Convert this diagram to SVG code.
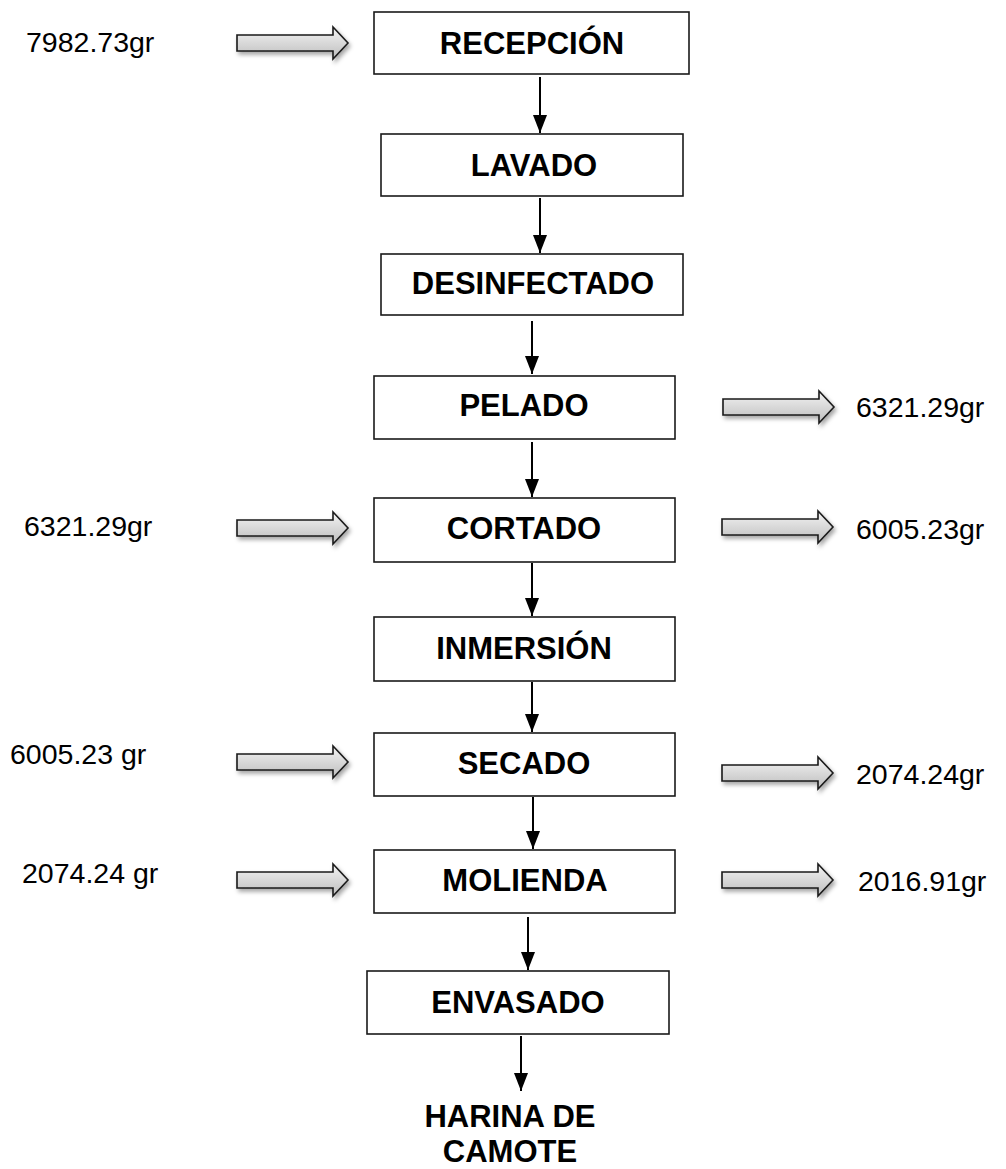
<svg xmlns="http://www.w3.org/2000/svg" width="1006" height="1169" viewBox="0 0 1006 1169">
<defs>
<style>
.box{fill:#fff;stroke:#1a1a1a;stroke-width:1.6}
.lbl{font-family:"Liberation Sans",Arial,sans-serif;font-weight:bold;font-size:31px;fill:#000;text-anchor:middle}
.qty{font-family:"Liberation Sans",Arial,sans-serif;font-size:28.5px;fill:#000}
.con{stroke:#000;stroke-width:2;fill:none;marker-end:url(#ah)}
.blk{fill:url(#g);stroke:#1a1a1a;stroke-width:1.6;filter:url(#sh)}
</style>
<linearGradient id="g" x1="0" y1="0" x2="0" y2="1">
<stop offset="0" stop-color="#f4f4f4"/>
<stop offset="1" stop-color="#bdbdbd"/>
</linearGradient>
<filter id="sh" x="-20%" y="-50%" width="140%" height="200%">
<feDropShadow dx="2" dy="3" stdDeviation="2" flood-color="#000" flood-opacity="0.35"/>
</filter>
<marker id="ah" markerWidth="18" markerHeight="14" refX="18" refY="7" orient="auto" markerUnits="userSpaceOnUse" viewBox="0 0 18 14">
<path d="M0,0 L18,7 L0,14 Z" fill="#000"/>
</marker>
<path id="ba" d="M0,-8 H96 V-16 L111,0 L96,16 V8 H0 Z"/>
</defs>
<g id="connectors">
<line class="con" x1="540" y1="77" x2="540" y2="133"/>
<line class="con" x1="540" y1="198" x2="540" y2="253"/>
<line class="con" x1="532" y1="321" x2="532" y2="374"/>
<line class="con" x1="532" y1="442" x2="532" y2="497"/>
<line class="con" x1="532" y1="563" x2="532" y2="616"/>
<line class="con" x1="532" y1="682" x2="532" y2="732"/>
<line class="con" x1="533" y1="797" x2="533" y2="849"/>
<line class="con" x1="528" y1="917" x2="528" y2="970"/>
<line class="con" x1="521" y1="1036" x2="521" y2="1091"/>
</g>
<g id="flow-arrows">
<use href="#ba" class="blk" transform="translate(237,43)"/>
<use href="#ba" class="blk" transform="translate(723,407)"/>
<use href="#ba" class="blk" transform="translate(237,528)"/>
<use href="#ba" class="blk" transform="translate(722,527)"/>
<use href="#ba" class="blk" transform="translate(237,762)"/>
<use href="#ba" class="blk" transform="translate(722,773)"/>
<use href="#ba" class="blk" transform="translate(237,880)"/>
<use href="#ba" class="blk" transform="translate(722,880)"/>
</g>
<g id="n-recepcion"><rect class="box" x="374" y="12" width="315" height="62"/><text class="lbl" x="532" y="54">RECEPCIÓN</text></g>
<g id="n-lavado"><rect class="box" x="381" y="134" width="302" height="62"/><text class="lbl" x="534" y="176">LAVADO</text></g>
<g id="n-desinfectado"><rect class="box" x="381" y="254" width="302" height="61"/><text class="lbl" x="533" y="294">DESINFECTADO</text></g>
<g id="n-pelado"><rect class="box" x="374" y="376" width="301" height="63"/><text class="lbl" x="524" y="416">PELADO</text></g>
<g id="n-cortado"><rect class="box" x="374" y="498" width="301" height="64"/><text class="lbl" x="524" y="539">CORTADO</text></g>
<g id="n-inmersion"><rect class="box" x="374" y="617" width="301" height="64"/><text class="lbl" x="524" y="659">INMERSIÓN</text></g>
<g id="n-secado"><rect class="box" x="374" y="733" width="301" height="63"/><text class="lbl" x="524" y="774">SECADO</text></g>
<g id="n-molienda"><rect class="box" x="374" y="850" width="301" height="63"/><text class="lbl" x="525" y="891">MOLIENDA</text></g>
<g id="n-envasado"><rect class="box" x="367" y="971" width="302" height="63"/><text class="lbl" x="518" y="1013">ENVASADO</text></g>
<g id="n-harina"><text class="lbl" x="510" y="1127">HARINA DE</text><text class="lbl" x="510" y="1162">CAMOTE</text></g>
<g id="quantities">
<text class="qty" x="26" y="52">7982.73gr</text>
<text class="qty" x="856" y="417">6321.29gr</text>
<text class="qty" x="24" y="536">6321.29gr</text>
<text class="qty" x="856" y="539">6005.23gr</text>
<text class="qty" x="10" y="764">6005.23 gr</text>
<text class="qty" x="856" y="784">2074.24gr</text>
<text class="qty" x="22" y="883">2074.24 gr</text>
<text class="qty" x="858" y="891">2016.91gr</text>
</g>
</svg>
